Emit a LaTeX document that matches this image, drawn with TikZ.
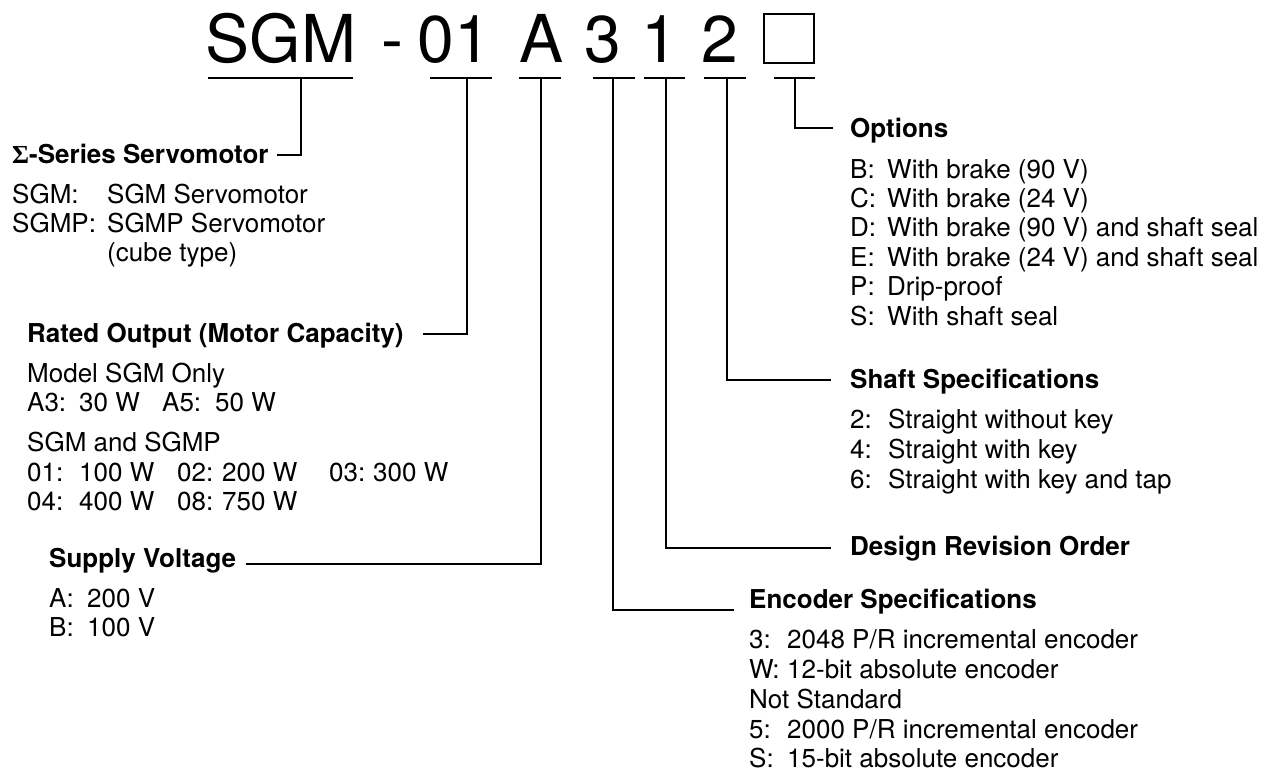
\documentclass[tikz,border=0pt]{standalone}
\usepackage{fontspec}
\setmainfont{TeX Gyre Heros}
\newfontfamily\sigfont{Liberation Serif}
\begin{document}
\begin{tikzpicture}[x=1pt,y=-1pt,
  head/.style={font=\fontsize{26}{30}\selectfont\bfseries, anchor=base west, inner sep=0pt},
  item/.style={font=\fontsize{26}{30}\selectfont, anchor=base west, inner sep=0pt},
  big/.style={font=\fontsize{66}{70}\selectfont, anchor=base, inner sep=0pt},
  conn/.style={line width=1.6pt}]
\useasboundingbox (0,0) rectangle (1282,774);

% ---- title code ----
\node[big] (tS)  at (281,62) {SGM};
\node[big] (tD)  at (392,62) {-};
\node[big] (t01) at (454,62) {01};
\node[big] (tA)  at (542,62) {A};
\node[big] (t3)  at (603,62) {3};
\node[big] (t1)  at (660,62) {1};
\node[big] (t2)  at (720,62) {2};
\node[draw, line width=1.6pt, minimum width=50pt, minimum height=49pt, inner sep=0pt] (tB) at (789,38.5) {};

% ---- underlines and stem tops ----
\foreach \n/\a/\b/\s in {S/208/353/301, 01/430/492/467, A/519/561/541, 3/593/635/613, 1/644/685/666, 2/704/746/727, B/774/815/795}{
  \coordinate (u\n) at (\s,78);
  \draw[conn] (\a,78) -- (\b,78);
}

% ---- left column ----
\node[head] (hSig) at (12,163) {{\sigfont Σ}-Series Servomotor};
\node[item] (s1) at (12,203) {\makebox[95pt][l]{SGM:}SGM Servomotor};
\node[item] (s2) at (12,232) {\makebox[95pt][l]{SGMP:}SGMP Servomotor};
\node[item] (s3) at (107,261) {(cube type)};

\node[head] (hRat) at (27,342) {Rated Output (Motor Capacity)};
\node[item] (r1) at (27,382) {Model SGM Only};
\node[item] (r2) at (27,411) {\makebox[52pt][l]{A3:}\makebox[83pt][l]{30 W}\makebox[53pt][l]{A5:}50 W};
\node[item] (r3) at (27,451) {SGM and SGMP};
\node[item] (r4) at (27,481) {\makebox[52pt][l]{01:}\makebox[98pt][l]{100 W}\makebox[45pt][l]{02:}\makebox[107pt][l]{200 W}\makebox[44pt][l]{03:}300 W};
\node[item] (r5) at (27,510) {\makebox[52pt][l]{04:}\makebox[98pt][l]{400 W}\makebox[45pt][l]{08:}750 W};

\node[head] (hSup) at (49,567) {Supply Voltage};
\node[item] (v1) at (49,607) {\makebox[38pt][l]{A:}200 V};
\node[item] (v2) at (49,636) {\makebox[38pt][l]{B:}100 V};

% ---- right column ----
\node[head] (hOpt) at (850,137) {Options};
\foreach \l/\d [count=\i from 0] in {{B:}/{With brake (90 V)}, {C:}/{With brake (24 V)}, {D:}/{With brake (90 V) and shaft seal}, {E:}/{With brake (24 V) and shaft seal}, {P:}/{Drip-proof}, {S:}/{With shaft seal}}{
  \node[item] (o\i) at (850,{178+29.4*\i}) {\makebox[37pt][l]{\l}\d};
}

\node[head] (hSha) at (850,388) {Shaft Specifications};
\node[item] (k1) at (850,428) {\makebox[38pt][l]{2:}Straight without key};
\node[item] (k2) at (850,458) {\makebox[38pt][l]{4:}Straight with key};
\node[item] (k3) at (850,488) {\makebox[38pt][l]{6:}Straight with key and tap};

\node[head] (hDes) at (850,555) {Design Revision Order};

\node[head] (hEnc) at (749,608) {Encoder Specifications};
\node[item] (e1) at (749,648) {\makebox[38pt][l]{3:}2048 P/R incremental encoder};
\node[item] (e2) at (749,678) {\makebox[38pt][l]{W:}12-bit absolute encoder};
\node[item] (e3) at (749,708) {Not Standard};
\node[item] (e4) at (749,738) {\makebox[38pt][l]{5:}2000 P/R incremental encoder};
\node[item] (e5) at (749,767) {\makebox[38pt][l]{S:}15-bit absolute encoder};

% ---- connector ends ----
\coordinate (cSig) at (277,155);
\coordinate (cRat) at (423,334);
\coordinate (cSup) at (246,564);
\coordinate (cEnc) at (734,610);
\coordinate (cDes) at (831,548);
\coordinate (cSha) at (831,380);
\coordinate (cOpt) at (833,128);

\draw[conn] (uS)  |- (cSig);
\draw[conn] (u01) |- (cRat);
\draw[conn] (uA)  |- (cSup);
\draw[conn] (u3)  |- (cEnc);
\draw[conn] (u1)  |- (cDes);
\draw[conn] (u2)  |- (cSha);
\draw[conn] (uB)  |- (cOpt);
\end{tikzpicture}
\end{document}
